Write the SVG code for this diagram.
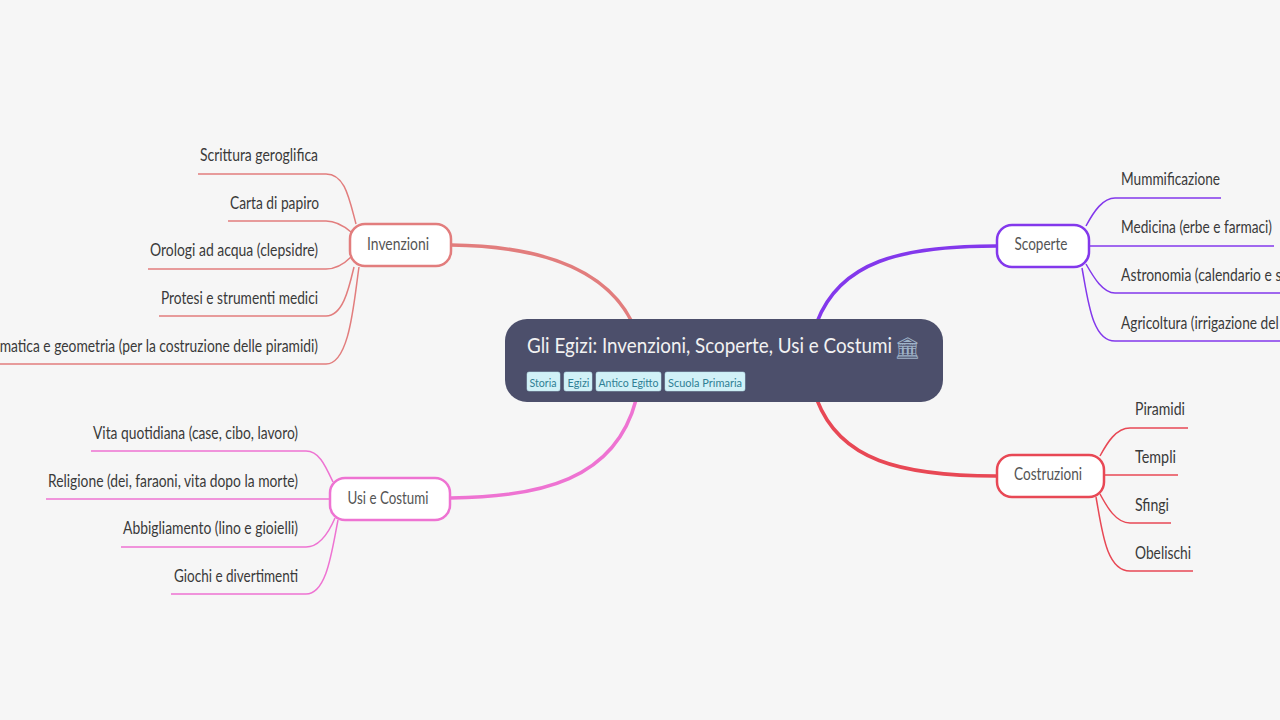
<svg xmlns="http://www.w3.org/2000/svg" width="1280" height="720" viewBox="0 0 1280 720">
<style>
text{font-family:"Lato","Noto Sans",sans-serif;font-size:16.5px;fill:#3a3a3a}
.c{fill:none}
.m{stroke-width:3.5}
.s{stroke-width:1.5}
.n{fill:#fff;stroke-width:2.5}
.end{text-anchor:end}
.mid{text-anchor:middle;fill:#555}
.tag{fill:#d1f1f7;stroke:#b8e4ee;stroke-width:.5}
.tt{font-size:12px;fill:#2f7f94}
.inv{stroke:#e27d7d}.sco{stroke:#8338ec}.cos{stroke:#e84855}.usi{stroke:#ee73d2}
</style>
<rect width="1280" height="720" fill="#f6f6f6"/>
<g id="connectors" class="c">
<g class="inv">
<path class="m" d="M451 245C540 246 605 268 632 322"/>
<path class="s" d="M356 224C349 198 345 174 326 174L198 174"/>
<path class="s" d="M351 232C344 226 336 221 326 221L228 221"/>
<path class="s" d="M351 257C344 264 336 269 326 269L148 269"/>
<path class="s" d="M354 267C349 288 343 316 326 316L159 316"/>
<path class="s" d="M359 267C354 300 350 364 326 364L0 364"/>
</g>
<g class="sco">
<path class="m" d="M996 246C900 246 840 262 817 322"/>
<path class="s" d="M1086 226C1094 211 1103 198 1115 198L1221 198"/>
<path class="s" d="M1090 246L1274 246"/>
<path class="s" d="M1086 264C1094 278 1103 293 1115 293L1280 293"/>
<path class="s" d="M1082 268C1088 300 1092 341 1115 341L1280 341"/>
</g>
<g class="cos">
<path class="m" d="M996 476C900 476 840 460 817 400"/>
<path class="s" d="M1100 456C1107 443 1116 428 1130 428L1188 428"/>
<path class="s" d="M1105 475L1178 475"/>
<path class="s" d="M1100 494C1107 507 1116 523 1130 523L1171 523"/>
<path class="s" d="M1096 497C1102 530 1106 571 1130 571L1193 571"/>
</g>
<g class="usi">
<path class="m" d="M451 498C540 497 615 480 636 400"/>
<path class="s" d="M333 482C325 465 319 451 306 451L91 451"/>
<path class="s" d="M330 499L46 499"/>
<path class="s" d="M335 518C329 532 319 547 306 547L121 547"/>
<path class="s" d="M338 520C332 550 327 594 306 594L171 594"/>
</g>
</g>
<g id="root">
<rect x="505" y="319" width="438" height="83" rx="22" fill="#4c4f6b"/>
<text x="527" y="353" style="font-size:22px;fill:#f2f2f2" textLength="365" lengthAdjust="spacingAndGlyphs">Gli Egizi: Invenzioni, Scoperte, Usi e Costumi</text>
<text x="894" y="355" style="font-size:21px;fill:#9fb3c8" font-family="Noto Sans CJK SC">🏛</text>
<rect class="tag" x="527" y="372" width="33" height="19" rx="2"/><text class="tt" x="529.5" y="387" textLength="27" lengthAdjust="spacingAndGlyphs">Storia</text>
<rect class="tag" x="564" y="372" width="28" height="19" rx="2"/><text class="tt" x="567.500" y="387" textLength="22" lengthAdjust="spacingAndGlyphs">Egizi</text>
<rect class="tag" x="596" y="372" width="65" height="19" rx="2"/><text class="tt" x="598.500" y="387" textLength="60" lengthAdjust="spacingAndGlyphs">Antico Egitto</text>
<rect class="tag" x="665" y="372" width="80" height="19" rx="2"/><text class="tt" x="668" y="387" textLength="74" lengthAdjust="spacingAndGlyphs">Scuola Primaria</text>
</g>
<g id="invenzioni"><rect class="n inv" x="350" y="224" width="101" height="42" rx="15"/><text class="mid" x="398" y="249.500" textLength="62" lengthAdjust="spacingAndGlyphs">Invenzioni</text></g>
<g id="scoperte"><rect class="n sco" x="997" y="225" width="92" height="42" rx="15"/><text class="mid" x="1041" y="250" textLength="53" lengthAdjust="spacingAndGlyphs">Scoperte</text></g>
<g id="costruzioni"><rect class="n cos" x="997" y="455" width="107" height="42" rx="15"/><text class="mid" x="1048" y="480" textLength="68" lengthAdjust="spacingAndGlyphs">Costruzioni</text></g>
<g id="usi"><rect class="n usi" x="330" y="478" width="120" height="42" rx="15"/><text class="mid" x="388" y="503.500" textLength="81" lengthAdjust="spacingAndGlyphs">Usi e Costumi</text></g>
<g id="i1"><text class="end" x="318" y="161" textLength="118" lengthAdjust="spacingAndGlyphs">Scrittura geroglifica</text></g>
<g id="i2"><text class="end" x="319" y="209" textLength="89" lengthAdjust="spacingAndGlyphs">Carta di papiro</text></g>
<g id="i3"><text class="end" x="318" y="256" textLength="168" lengthAdjust="spacingAndGlyphs">Orologi ad acqua (clepsidre)</text></g>
<g id="i4"><text class="end" x="318" y="304" textLength="157" lengthAdjust="spacingAndGlyphs">Protesi e strumenti medici</text></g>
<g id="i5"><text class="end" x="318" y="352" textLength="350" lengthAdjust="spacingAndGlyphs">Matematica e geometria (per la costruzione delle piramidi)</text></g>
<g id="s1"><text x="1121" y="185" textLength="99" lengthAdjust="spacingAndGlyphs">Mummificazione</text></g>
<g id="s2"><text x="1121" y="233" textLength="151" lengthAdjust="spacingAndGlyphs">Medicina (erbe e farmaci)</text></g>
<g id="s3"><text x="1121" y="280.500" textLength="190" lengthAdjust="spacingAndGlyphs">Astronomia (calendario e stelle)</text></g>
<g id="s4"><text x="1121" y="328.500" textLength="189" lengthAdjust="spacingAndGlyphs">Agricoltura (irrigazione del Nilo)</text></g>
<g id="c1"><text x="1135" y="415" textLength="50" lengthAdjust="spacingAndGlyphs">Piramidi</text></g>
<g id="c2"><text x="1135" y="463" textLength="41" lengthAdjust="spacingAndGlyphs">Templi</text></g>
<g id="c3"><text x="1135" y="511" textLength="34" lengthAdjust="spacingAndGlyphs">Sfingi</text></g>
<g id="c4"><text x="1135" y="559" textLength="56" lengthAdjust="spacingAndGlyphs">Obelischi</text></g>
<g id="u1"><text class="end" x="298" y="439" textLength="205" lengthAdjust="spacingAndGlyphs">Vita quotidiana (case, cibo, lavoro)</text></g>
<g id="u2"><text class="end" x="298" y="487" textLength="250" lengthAdjust="spacingAndGlyphs">Religione (dei, faraoni, vita dopo la morte)</text></g>
<g id="u3"><text class="end" x="298" y="534" textLength="175" lengthAdjust="spacingAndGlyphs">Abbigliamento (lino e gioielli)</text></g>
<g id="u4"><text class="end" x="298" y="582" textLength="124" lengthAdjust="spacingAndGlyphs">Giochi e divertimenti</text></g>
</svg>
